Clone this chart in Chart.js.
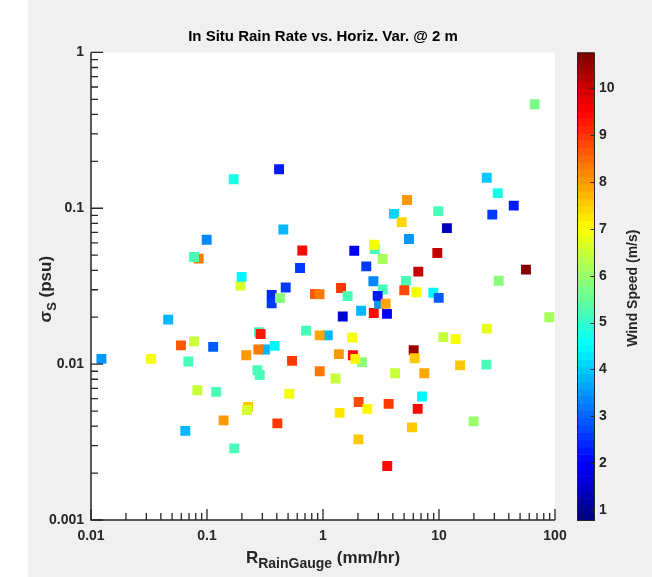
<!DOCTYPE html>
<html>
<head>
<meta charset="utf-8">
<script src="https://cdn.jsdelivr.net/npm/chart.js@4.4.1/dist/chart.umd.min.js"></script>
<style>
  html, body { margin: 0; padding: 0; background: #ffffff; }
  #wrap { position: relative; width: 652px; height: 577px; }
  canvas { display: block; }
</style>
</head>
<body>
<div id="wrap"><canvas id="c" width="652" height="577"></canvas></div>
<script>
// In situ rain gauge rate (mm/hr), horizontal salinity variability (psu) and wind speed (m/s)
const rainRate = [
  0.0123, 0.0329, 0.0463, 0.0597, 0.0650, 0.0690, 0.0848, 0.0773, 0.0773, 0.0825,
  0.0994, 0.113, 0.120, 0.139, 0.170, 0.172, 0.194, 0.199, 0.218, 0.226,
  0.221, 0.272, 0.285, 0.316, 0.277, 0.281, 0.290, 0.361, 0.361, 0.426,
  0.383, 0.404, 0.418, 0.455, 0.477, 0.512, 0.541, 0.634, 0.663, 0.714,
  0.853, 0.933, 1.10, 0.937, 0.937, 1.28, 1.37, 1.39, 1.43, 1.48,
  1.63, 1.78, 2.17, 1.81, 1.90, 1.86, 2.02, 2.03, 2.13, 2.36,
  2.41, 2.72, 2.74, 2.79, 2.75, 3.27, 3.04, 2.96, 3.47, 3.27,
  3.56, 3.58, 3.68, 4.09, 4.18, 4.77, 5.30, 5.19, 5.02, 5.51,
  5.85, 6.05, 6.17, 6.37, 6.55, 6.63, 7.14, 7.47, 8.93, 9.67,
  9.86, 9.94, 10.9, 11.7, 13.9, 15.2, 19.9, 25.6, 25.8, 25.8,
  28.8, 32.1, 32.7, 44.1, 56.2, 66.8, 89.3
];
const sigmaS = [
  0.0108, 0.0108, 0.0193, 0.0132, 0.00373, 0.0104, 0.0475, 0.0487, 0.0140, 0.00680,
  0.0628, 0.0129, 0.00664, 0.00436, 0.1535, 0.00288, 0.0319, 0.0363, 0.0114, 0.00532,
  0.00507, 0.00913, 0.00852, 0.0124, 0.0124, 0.0160, 0.0156, 0.0278, 0.0246, 0.0265,
  0.0131, 0.00417, 0.178, 0.0731, 0.0310, 0.00644, 0.0105, 0.0414, 0.0536, 0.0164,
  0.0282, 0.0281, 0.0153, 0.0153, 0.00900, 0.00808, 0.0116, 0.00487, 0.0308, 0.0202,
  0.0273, 0.0148, 0.0103, 0.0114, 0.0108, 0.0534, 0.00329, 0.00572, 0.0220, 0.0424,
  0.00516, 0.0340, 0.0213, 0.0548, 0.0583, 0.0301, 0.0244, 0.0274, 0.0244, 0.0473,
  0.0210, 0.00222, 0.00556, 0.0921, 0.00874, 0.0815, 0.113, 0.0342, 0.0298, 0.0635,
  0.00393, 0.0123, 0.0109, 0.0289, 0.00516, 0.0392, 0.00620, 0.00874, 0.0287, 0.0516,
  0.0958, 0.0266, 0.0149, 0.0746, 0.0145, 0.00982, 0.00429, 0.00993, 0.0169, 0.157,
  0.0911, 0.125, 0.0343, 0.104, 0.0404, 0.465, 0.0200
];
const windSpeed = [
  3.5, 7.0, 3.8, 8.7, 3.8, 5.2, 8.4, 5.3, 6.5, 6.4,
  3.3, 2.9, 5.2, 8.1, 4.8, 5.3, 6.6, 4.4, 8.0, 7.5,
  6.6, 5.2, 5.2, 3.8, 8.3, 5.2, 9.3, 2.4, 2.6, 5.9,
  4.4, 8.9, 2.2, 3.8, 2.6, 6.9, 9.0, 2.6, 9.5, 5.2,
  8.7, 8.4, 3.9, 7.9, 8.3, 6.4, 8.1, 7.2, 8.9, 1.6,
  5.2, 6.9, 5.8, 9.4, 7.1, 2.0, 7.5, 8.8, 3.9, 2.6,
  7.1, 3.3, 9.4, 5.2, 6.9, 5.2, 3.5, 2.3, 7.9, 6.2,
  1.9, 9.5, 8.9, 4.2, 6.5, 7.4, 8.0, 5.2, 8.8, 3.5,
  7.6, 10.5, 7.5, 7.0, 9.4, 10.1, 4.5, 7.9, 4.5, 10.1,
  5.3, 2.9, 6.4, 1.5, 7.0, 7.5, 6.0, 5.2, 6.8, 4.0,
  2.6, 4.8, 5.9, 2.3, 10.7, 5.7, 6.2
];

const xTickValues = [0.01, 0.1, 1, 10, 100];
const xTickLabels = ['0.01', '0.1', '1', '10', '100'];
const yTickValues = [0.001, 0.01, 0.1, 1];
const yTickLabels = ['0.001', '0.01', '0.1', '1'];
const windTickValues = [1, 2, 3, 4, 5, 6, 7, 8, 9, 10];
const windLimits = [0.79, 10.76];

const TEXT = '#262626';
const FONT = '"Liberation Sans", Arial, Helvetica, sans-serif';

// jet colormap, 64 discrete levels
const N_LEVELS = 64;
function jet(t) {
  const c = v => Math.max(0, Math.min(1, v));
  const r = c(Math.min(4 * t - 1.5, -4 * t + 4.5));
  const g = c(Math.min(4 * t - 0.5, -4 * t + 3.5));
  const b = c(Math.min(4 * t + 0.5, -4 * t + 2.5));
  return 'rgb(' + Math.round(r * 255) + ',' + Math.round(g * 255) + ',' + Math.round(b * 255) + ')';
}
function levelColor(i) { return jet((i + 0.5) / N_LEVELS); }
function windColor(w) {
  const t = (w - windLimits[0]) / (windLimits[1] - windLimits[0]);
  const i = Math.max(0, Math.min(N_LEVELS - 1, Math.floor(t * N_LEVELS)));
  return levelColor(i);
}

const points = rainRate.map((x, i) => ({ x: x, y: sigmaS[i] }));
const pointColors = windSpeed.map(windColor);

function decadeMinors(min, max) {
  const out = [];
  for (let e = Math.round(Math.log10(min)); e < Math.round(Math.log10(max)); e++) {
    for (let k = 2; k <= 9; k++) out.push(k * Math.pow(10, e));
  }
  return out;
}

// text with a subscript run, centred on (cx, cy)
function drawSubscripted(ctx, parts, cx, cy) {
  let total = 0;
  parts.forEach(p => { ctx.font = p.font; p.w = ctx.measureText(p.text).width; total += p.w; });
  let x = cx - total / 2;
  parts.forEach(p => {
    ctx.font = p.font;
    ctx.fillText(p.text, x, cy + (p.dy || 0));
    x += p.w;
  });
}

const figurePlugin = {
  id: 'figureDecor',
  beforeDraw(chart) {
    const { ctx, chartArea: a } = chart;
    ctx.save();
    ctx.fillStyle = '#ffffff';
    ctx.fillRect(0, 0, chart.width, chart.height);
    ctx.fillStyle = '#f0f0f0';
    ctx.fillRect(28, 0, chart.width - 28, chart.height);
    ctx.fillStyle = '#ffffff';
    ctx.fillRect(a.left, a.top, a.right - a.left, a.bottom - a.top);
    ctx.restore();
  },
  afterDraw(chart) {
    const { ctx, chartArea: a } = chart;
    const xs = chart.scales.x, ys = chart.scales.y, ws = chart.scales.wind;
    ctx.save();

    // axis lines and inward tick marks
    ctx.strokeStyle = TEXT;
    ctx.lineWidth = 1.5;
    ctx.beginPath();
    ctx.moveTo(a.left, a.top);
    ctx.lineTo(a.left, a.bottom);
    ctx.lineTo(a.right, a.bottom);
    ctx.stroke();

    ctx.lineWidth = 1.3;
    ctx.beginPath();
    xTickValues.forEach(v => { const px = xs.getPixelForValue(v); ctx.moveTo(px, a.bottom); ctx.lineTo(px, a.bottom - 11); });
    decadeMinors(xTickValues[0], xTickValues[xTickValues.length - 1]).forEach(v => {
      const px = xs.getPixelForValue(v); ctx.moveTo(px, a.bottom); ctx.lineTo(px, a.bottom - 7);
    });
    yTickValues.forEach(v => { const py = ys.getPixelForValue(v); ctx.moveTo(a.left, py); ctx.lineTo(a.left + 12, py); });
    decadeMinors(yTickValues[0], yTickValues[yTickValues.length - 1]).forEach(v => {
      const py = ys.getPixelForValue(v); ctx.moveTo(a.left, py); ctx.lineTo(a.left + 7, py);
    });
    ctx.stroke();

    // colorbar
    const cbL = 577, cbW = 17;
    const step = (windLimits[1] - windLimits[0]) / N_LEVELS;
    for (let i = 0; i < N_LEVELS; i++) {
      const y0 = ws.getPixelForValue(windLimits[0] + (i + 1) * step);
      const y1 = ws.getPixelForValue(windLimits[0] + i * step);
      ctx.fillStyle = levelColor(i);
      ctx.fillRect(cbL, y0, cbW, y1 - y0 + 0.6);
    }
    ctx.strokeStyle = TEXT;
    ctx.lineWidth = 1;
    ctx.strokeRect(cbL + 0.5, ws.top + 0.5, cbW, ws.bottom - ws.top);
    ctx.beginPath();
    windTickValues.forEach(v => {
      const py = Math.round(ws.getPixelForValue(v)) + 0.5;
      ctx.moveTo(cbL + cbW, py); ctx.lineTo(cbL + cbW - 3.5, py);
    });
    ctx.stroke();

    // title
    ctx.fillStyle = '#000000';
    ctx.textAlign = 'center';
    ctx.textBaseline = 'middle';
    ctx.font = 'bold 15px ' + FONT;
    ctx.fillText('In Situ Rain Rate vs. Horiz. Var. @ 2 m', (a.left + a.right) / 2, 37);

    // x axis label: R with subscript
    ctx.fillStyle = TEXT;
    ctx.textAlign = 'left';
    ctx.textBaseline = 'alphabetic';
    drawSubscripted(ctx, [
      { text: 'R', font: 'bold 17px ' + FONT },
      { text: 'RainGauge', font: 'bold 14px ' + FONT, dy: 5 },
      { text: ' (mm/hr)', font: 'bold 17px ' + FONT }
    ], (a.left + a.right) / 2, 563);

    // y axis label: sigma_S
    ctx.save();
    ctx.translate(51, (a.top + a.bottom) / 2 + 3);
    ctx.rotate(-Math.PI / 2);
    drawSubscripted(ctx, [
      { text: 'σ', font: 'bold 17px ' + FONT },
      { text: 'S', font: 'bold 13px ' + FONT, dy: 5 },
      { text: ' (psu)', font: 'bold 17px ' + FONT }
    ], 0, 0);
    ctx.restore();

    // colorbar label
    ctx.save();
    ctx.translate(637, (ws.top + ws.bottom) / 2 + 2);
    ctx.rotate(-Math.PI / 2);
    ctx.textAlign = 'center';
    ctx.textBaseline = 'alphabetic';
    ctx.font = 'bold 14px ' + FONT;
    ctx.fillText('Wind Speed (m/s)', 0, 0);
    ctx.restore();

    ctx.restore();
  }
};

const tickFont = { family: FONT, size: 14, weight: 'bold' };

new Chart(document.getElementById('c'), {
  type: 'scatter',
  data: {
    datasets: [{
      data: points,
      pointStyle: 'rect',
      pointRadius: 7,
      pointHoverRadius: 7,
      borderWidth: 0,
      backgroundColor: pointColors,
      pointBackgroundColor: pointColors
    }]
  },
  options: {
    responsive: false,
    animation: false,
    events: [],
    layout: { padding: { top: 50, left: 0, right: 0, bottom: 0 } },
    plugins: { legend: { display: false }, tooltip: { enabled: false }, title: { display: false } },
    scales: {
      x: {
        type: 'logarithmic', position: 'bottom',
        min: xTickValues[0], max: xTickValues[xTickValues.length - 1],
        grid: { display: false, drawTicks: false },
        border: { display: false },
        afterBuildTicks: s => { s.ticks = xTickValues.map(v => ({ value: v, major: true })); },
        afterFit: s => { s.height = 57; },
        ticks: {
          autoSkip: false, maxRotation: 0, padding: 8, color: TEXT, font: tickFont,
          callback: (v) => { const i = xTickValues.indexOf(v); return i >= 0 ? xTickLabels[i] : ''; }
        }
      },
      y: {
        type: 'logarithmic', position: 'left',
        min: yTickValues[0], max: yTickValues[yTickValues.length - 1],
        grid: { display: false, drawTicks: false },
        border: { display: false },
        afterBuildTicks: s => { s.ticks = yTickValues.map(v => ({ value: v, major: true })); },
        afterFit: s => { s.width = 91; },
        ticks: {
          autoSkip: false, padding: 7, color: TEXT, font: tickFont,
          callback: (v) => { const i = yTickValues.indexOf(v); return i >= 0 ? yTickLabels[i] : ''; }
        }
      },
      wind: {
        type: 'linear', position: 'right',
        min: windLimits[0], max: windLimits[1],
        grid: { display: false, drawTicks: false },
        border: { display: false },
        afterBuildTicks: s => { s.ticks = windTickValues.map(v => ({ value: v })); },
        afterFit: s => { s.width = 97; },
        ticks: { autoSkip: false, padding: 44, color: TEXT, font: tickFont, callback: v => String(v) }
      }
    }
  },
  plugins: [figurePlugin]
});
</script>
</body>
</html>
